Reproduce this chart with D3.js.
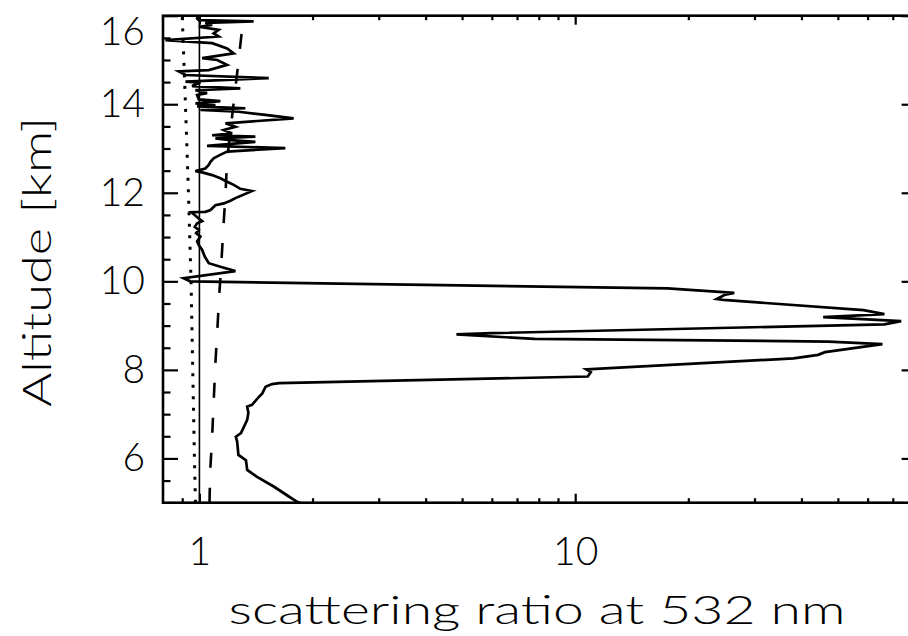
<!DOCTYPE html>
<html>
<head>
<meta charset="utf-8">
<script src="https://cdn.jsdelivr.net/npm/d3@7"></script>
<style>
  body { margin: 0; background: #fff; }
  text { font-family: Lato, "DejaVu Sans", sans-serif; font-weight: 300; fill: #000; }
</style>
</head>
<body>
<div id="chart"></div>
<script>
// scattering ratio profile (solid), altitude in km
const profileAlt = [5.00, 5.02, 5.14, 5.36, 5.59, 5.74, 5.96, 6.08, 6.38, 6.49, 6.57, 6.87, 7.03, 7.17, 7.21, 7.39, 7.47, 7.62, 7.68, 7.70,
  7.85, 7.95, 8.01, 8.26, 8.34, 8.40, 8.58, 8.64, 8.70, 8.80, 8.83, 9.03, 9.10, 9.19, 9.26, 9.35, 9.58, 9.60, 9.70, 9.74, 9.84, 10.00,
  10.07, 10.23, 10.33, 10.41, 10.56, 10.71, 10.82, 10.90, 11.01, 11.09, 11.16, 11.23, 11.31, 11.36, 11.42, 11.56, 11.57, 11.61, 11.72,
  11.76, 11.82, 11.88, 12.04, 12.09, 12.18, 12.25, 12.33, 12.40, 12.46, 12.49, 12.55, 12.63, 12.70, 12.78, 12.84, 12.93, 13.01, 13.06,
  13.15, 13.19, 13.23, 13.27, 13.30, 13.34, 13.42, 13.49, 13.57, 13.68, 13.76, 13.83, 13.87, 13.91, 13.95, 13.98, 14.02, 14.07, 14.11,
  14.21, 14.25, 14.32, 14.36, 14.41, 14.49, 14.51, 14.59, 14.66, 14.74, 14.77, 14.89, 15.00, 15.04, 15.15, 15.26, 15.38, 15.45, 15.53,
  15.60, 15.68, 15.75, 15.79, 15.84, 15.87, 15.90, 15.94, 16.00];
const profileRatio = [1.85, 1.82, 1.73, 1.58, 1.42, 1.34, 1.33, 1.27, 1.26, 1.25, 1.29, 1.34, 1.35, 1.34, 1.38, 1.44, 1.47, 1.50, 1.56, 1.63,
  10.8, 11.0, 10.7, 38.1, 44.3, 46.2, 65.7, 47.2, 7.8, 4.83, 6.0, 66.5, 73.7, 45.7, 66.5, 58.5, 24.8, 23.8, 25.1, 26.5, 17.6, 0.946,
  0.908, 1.247, 1.137, 1.059, 1.033, 1.017, 0.996, 0.986, 1.006, 0.980, 0.996, 0.972, 0.986, 1.017, 0.996, 0.952, 1.037, 1.070, 1.103,
  1.161, 1.209, 1.247, 1.381, 1.285, 1.234, 1.185, 1.137, 1.081, 1.017, 0.976, 1.037, 1.059, 1.070, 1.091, 1.125, 1.185, 1.693, 1.048,
  1.409, 1.209, 1.103, 1.409, 1.081, 1.222, 1.161, 1.247, 1.173, 1.781, 1.498, 1.272, 1.006, 1.325, 0.986, 1.103, 0.976, 1.137, 0.996,
  0.986, 1.048, 0.976, 1.285, 0.956, 1.006, 0.918, 1.529, 0.918, 0.881, 1.059, 1.185, 1.115, 1.017, 1.234, 1.185, 1.081, 0.812, 1.125,
  1.091, 1.125, 0.996, 1.081, 1.037, 1.394, 0.996, 0.986, 1.00];

// dashed curve
const dashAlt = [5.0, 5.22, 5.81, 6.49, 7.25, 8.16, 8.84, 9.74, 10.3, 11.16, 11.9, 12.74, 14.2, 14.9, 15.7, 16.0];
const dashRatio = [1.064, 1.065, 1.070, 1.081, 1.091, 1.103, 1.115, 1.130, 1.142, 1.157, 1.172, 1.185, 1.240, 1.268, 1.299, 1.31];

// dotted curve
const dotAlt = [5.0, 6.0, 8.0, 10.0, 12.0, 14.0, 16.0];
const dotRatio = [0.976, 0.970, 0.960, 0.950, 0.935, 0.918, 0.900];

// reference line at ratio 1
const refRatio = 1;

const xMajor = [1, 10];
const xMinor = [0.9, 2, 3, 4, 5, 6, 7, 8, 9, 20, 30, 40, 50, 60, 70, 80];
const yMajor = [6, 8, 10, 12, 14, 16];
const yMinor = [5.5, 6.5, 7, 7.5, 8.5, 9, 9.5, 10.5, 11, 11.5, 12.5, 13, 13.5, 14.5, 15, 15.5];

const svgWidth = 908;
const svgHeight = 636;
const plot = { left: 163, right: 916.6, top: 15.7, bottom: 502.7 };

const svg = d3.select('#chart').append('svg').attr('width', svgWidth).attr('height', svgHeight);

const xScale = d3.scaleLog().domain([0.8, 81]).range([plot.left, plot.right]);
const yScale = d3.scaleLinear().domain([5, 16]).range([plot.bottom, plot.top]);

svg.append('clipPath').attr('id', 'clip').append('rect')
  .attr('x', plot.left).attr('y', plot.top)
  .attr('width', plot.right - plot.left).attr('height', plot.bottom - plot.top);

const lines = svg.append('g').attr('clip-path', 'url(#clip)');
const line = d3.line().x(d => xScale(d[1])).y(d => yScale(d[0]));

lines.append('path')
  .datum(dotAlt.map((a, i) => [a, dotRatio[i]]))
  .attr('d', line).attr('fill', 'none').attr('stroke', '#000')
  .attr('stroke-width', 3).attr('stroke-dasharray', '3,8.5');

lines.append('line')
  .attr('x1', xScale(refRatio)).attr('x2', xScale(refRatio))
  .attr('y1', yScale(5)).attr('y2', yScale(16))
  .attr('stroke', '#000').attr('stroke-width', 1.6);

lines.append('path')
  .datum(dashAlt.map((a, i) => [a, dashRatio[i]]))
  .attr('d', line).attr('fill', 'none').attr('stroke', '#000')
  .attr('stroke-width', 2.6).attr('stroke-dasharray', '15,20');

lines.append('path')
  .datum(profileAlt.map((a, i) => [a, profileRatio[i]]))
  .attr('d', line).attr('fill', 'none').attr('stroke', '#000')
  .attr('stroke-width', 2.7).attr('stroke-linejoin', 'miter');

// axes, IDL style: ticks inward on all four sides
function styleAxis(g) {
  g.select('.domain').remove();
  g.selectAll('.tick line').attr('stroke', '#000').attr('stroke-width', 2.2);
  g.selectAll('.tick text').attr('font-size', 39).attr('font-family', 'Lato, "DejaVu Sans", sans-serif').attr('font-weight', 300);
}

svg.append('g').attr('transform', `translate(0,${plot.bottom})`)
  .call(d3.axisBottom(xScale).tickValues(xMajor).tickSize(-9).tickPadding(35).tickFormat(d3.format('d')))
  .call(styleAxis);
svg.append('g').attr('transform', `translate(0,${plot.bottom})`)
  .call(d3.axisBottom(xScale).tickValues(xMinor).tickSize(-4.5).tickFormat(''))
  .call(styleAxis);
svg.append('g').attr('transform', `translate(0,${plot.top})`)
  .call(d3.axisTop(xScale).tickValues(xMajor).tickSize(-9).tickFormat(''))
  .call(styleAxis);
svg.append('g').attr('transform', `translate(0,${plot.top})`)
  .call(d3.axisTop(xScale).tickValues(xMinor).tickSize(-4.5).tickFormat(''))
  .call(styleAxis);

const yAxis = svg.append('g').attr('transform', `translate(${plot.left},0)`)
  .call(d3.axisLeft(yScale).tickValues(yMajor).tickSize(-15).tickPadding(18).tickFormat(d3.format('d')))
  .call(styleAxis);
// top label sits lower so it stays inside the figure
yAxis.selectAll('.tick text').attr('y', d => Math.max(0, 32 - yScale(d)));
svg.append('g').attr('transform', `translate(${plot.left},0)`)
  .call(d3.axisLeft(yScale).tickValues(yMinor).tickSize(-7.5).tickFormat(''))
  .call(styleAxis);
svg.append('g').attr('transform', `translate(${plot.right},0)`)
  .call(d3.axisRight(yScale).tickValues(yMajor).tickSize(-15).tickFormat(''))
  .call(styleAxis);
svg.append('g').attr('transform', `translate(${plot.right},0)`)
  .call(d3.axisRight(yScale).tickValues(yMinor).tickSize(-7.5).tickFormat(''))
  .call(styleAxis);

svg.append('rect')
  .attr('x', plot.left).attr('y', plot.top)
  .attr('width', plot.right - plot.left).attr('height', plot.bottom - plot.top)
  .attr('fill', 'none').attr('stroke', '#000').attr('stroke-width', 2.6);

svg.append('text')
  .attr('x', 537).attr('y', 624)
  .attr('text-anchor', 'middle')
  .attr('font-size', 40)
  .attr('textLength', 617).attr('lengthAdjust', 'spacingAndGlyphs')
  .text('scattering ratio at 532 nm');

svg.append('text')
  .attr('transform', 'translate(51,262) rotate(-90)')
  .attr('text-anchor', 'middle')
  .attr('font-size', 40)
  .attr('textLength', 290).attr('lengthAdjust', 'spacingAndGlyphs')
  .text('Altitude [km]');
</script>
</body>
</html>
